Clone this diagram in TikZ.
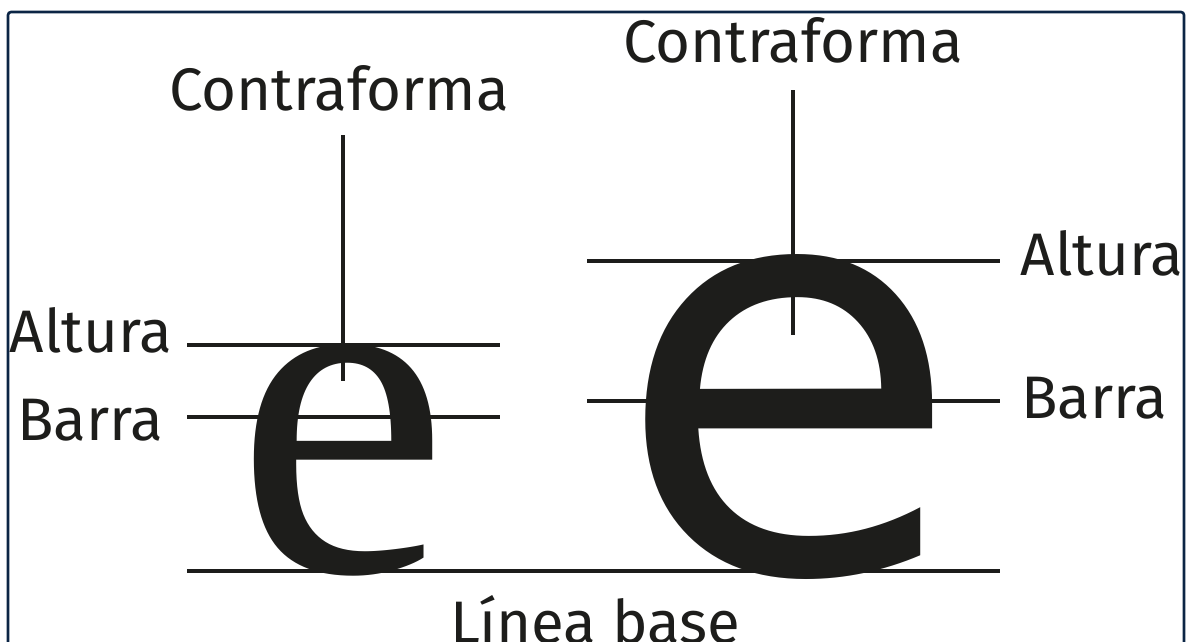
\documentclass[tikz,border=0pt]{standalone}
\usepackage{fontspec}
\setmainfont{Fira Sans}
\newfontfamily\serifE{Liberation Serif}
\newfontfamily\sansE{DejaVu Sans}
\definecolor{ink}{HTML}{1D1D1B}
\definecolor{navy}{HTML}{0B2545}
\begin{document}
\begin{tikzpicture}[x=1pt,y=-1pt,
  lbl/.style={font=\fontsize{60}{60}\selectfont, text=ink, inner sep=0pt, anchor=base},
  guide/.style={draw=ink, line width=4.8pt},
  frame/.style={draw=navy, line width=2.6pt, rounded corners=3pt},
  glyph/.style={inner sep=0pt, anchor=base, text=ink}]
\useasboundingbox (0,0) rectangle (1189,641);
\clip (0,0) rectangle (1189,641);
\draw[frame] (8,12) rectangle (1184,720);
% endpoints
\coordinate (aL1) at (187,345); \coordinate (aL2) at (500,345);
\coordinate (bL1) at (187,417); \coordinate (bL2) at (500,417);
\coordinate (base1) at (187,571); \coordinate (base2) at (1000,571);
\coordinate (aR1) at (587,261); \coordinate (aR2) at (1000,261);
\coordinate (bR1) at (587,401); \coordinate (bR2) at (1000,401);
\coordinate (vL1) at (343,135); \coordinate (vL2) at (343,381);
\coordinate (vR1) at (793,90); \coordinate (vR2) at (793,335);
\draw[guide] (aL1) -- (aL2);
\draw[guide] (bL1) -- (bL2);
\draw[guide] (base1) -- (base2);
\draw[guide] (aR1) -- (aR2);
\draw[guide] (bR1) -- (bR2);
% letters
\node[glyph, font=\serifE\fontsize{482}{482}\selectfont] (esmall) at (342,571) {e};
\node[glyph, font=\sansE\fontsize{566}{566}\selectfont] (ebig) at (789,571) {e};
\draw[guide] (vL1) -- (vL2);
\draw[guide] (vR1) -- (vR2);
% labels
\node[lbl] (cL) at (339,110) {Contraforma};
\node[lbl] (cR) at (793,62) {Contraforma};
\node[lbl] (altL) at (91,352) {Altura};
\node[lbl] (barL) at (90,440) {Barra};
\node[lbl] (altR) at (1102,275) {Altura};
\node[lbl] (barR) at (1094,418) {Barra};
\node[lbl] (linea) at (595,643) {Línea base};
\end{tikzpicture}
\end{document}
